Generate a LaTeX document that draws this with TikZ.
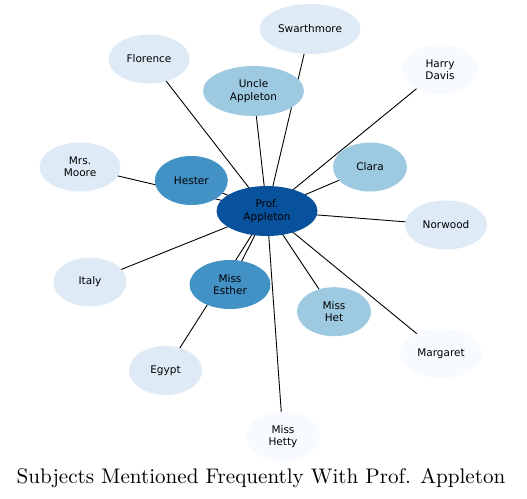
\documentclass[tikz,border=0pt]{standalone}
\usepackage{fontspec}
\newfontfamily\dejavu{DejaVu Sans}
\newfontfamily\titlefont{lmroman10-regular.otf}
\usetikzlibrary{shapes.geometric,backgrounds}
\definecolor{cA}{HTML}{08519C}
\definecolor{cB}{HTML}{4292C6}
\definecolor{cC}{HTML}{9ECAE1}
\definecolor{cD}{HTML}{DEEBF7}
\definecolor{cE}{HTML}{F7FBFF}
\tikzset{
  person/.style={ellipse, draw=none, inner sep=0pt, align=center,
    font=\dejavu\fontsize{10.5}{12.3}\selectfont, text=black},
  wide/.style={minimum width=101pt, minimum height=50pt},
  mid/.style={minimum width=81pt, minimum height=49pt},
  small/.style={minimum width=73pt, minimum height=49pt},
  link/.style={draw=black, line width=0.9pt}
}
\begin{document}
\begin{tikzpicture}[x=1pt,y=-1pt]
\useasboundingbox (0,0) rectangle (527,498);
\node[person,wide,fill=cA] (app) at (267,211) {Prof.\\Appleton};
\node[person,wide,fill=cD] (swa) at (310,29) {Swarthmore};
\node[person,mid,fill=cD] (flo) at (149,59) {Florence};
\node[person,wide,fill=cC] (unc) at (253.5,91) {Uncle\\Appleton};
\node[person,small,minimum width=75pt,fill=cE] (har) at (440,69.5) {Harry\\Davis};
\node[person,mid,fill=cD] (moo) at (80,167) {Mrs.\\Moore};
\node[person,small,fill=cB] (hes) at (191.3,180.5) {Hester};
\node[person,small,minimum width=74pt,fill=cC] (cla) at (370,167) {Clara};
\node[person,mid,minimum width=82pt,fill=cD] (nor) at (446,225) {Norwood};
\node[person,small,fill=cD] (ita) at (90,282) {Italy};
\node[person,mid,fill=cB] (est) at (230,284.5) {Miss\\Esther};
\node[person,small,minimum width=74pt,fill=cC] (het) at (334,311.7) {Miss\\Het};
\node[person,mid,minimum width=82pt,fill=cE] (mar) at (441,353.5) {Margaret};
\node[person,small,fill=cD] (egy) at (165.5,370.5) {Egypt};
\node[person,small,fill=cE] (hty) at (283,436.5) {Miss\\Hetty};
\begin{pgfonlayer}{background}
\fill[white] (0,0) rectangle (527,498);
\foreach \n in {swa,flo,unc,har,moo,hes,cla,nor,ita,est,het,mar,egy,hty}
  \draw[link] (app.center) -- (\n.center);
\end{pgfonlayer}
\node[font=\titlefont\fontsize{21.1}{24}\selectfont, inner sep=0pt, anchor=base] (title) at (261,483) {Subjects Mentioned Frequently With Prof. Appleton};
\end{tikzpicture}
\end{document}
